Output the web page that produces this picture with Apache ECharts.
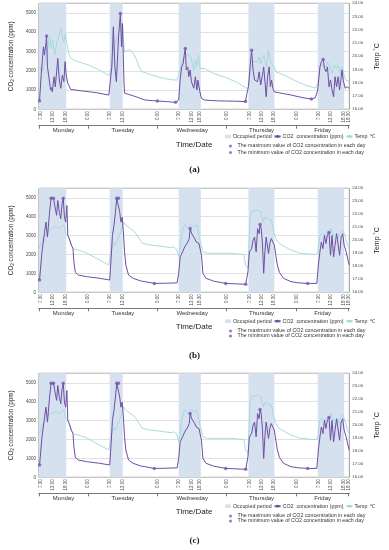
<!DOCTYPE html>
<html><head><meta charset="utf-8">
<script src="https://cdn.jsdelivr.net/npm/echarts@6/dist/echarts.min.js"></script>
<style>html,body{margin:0;padding:0;background:#fff}#c{width:389px;height:550px}</style>
</head><body><div id="c"></div>
<script>
// x = sample position along the (irregularly sampled) time axis, 0..340.7
const xTickPos = [0, 2, 15.7, 30, 54, 77.7, 92, 130.4, 153.4, 168, 177, 206, 231, 245, 257.4, 282.7, 306.7, 320.7, 334.4, 340];
const xTickLab = ['7:00','7:30','12:00','18:30','0:00','7:30','12:00','0:00','7:30','12:00','18:30','0:00','7:30','12:00','18:30','0:00','7:30','12:00','18:30','18:30'];
const dayBound = [0, 54, 130.4, 206, 282.7, 340];
const dayMid = [27, 92.2, 168.2, 244.4, 311.4];
const dayNames = ['Monday','Tuesday','Wednesday','Thursday','Friday'];
const occStart = [0, 77.7, 153.4, 230, 306];
const occEnd = [30, 92, 177.7, 258.4, 335];
const co2Ticks = [0, 1000, 2000, 3000, 4000, 5000];
const tempTicks = [16, 17, 18, 19, 20, 21, 22, 23, 24];

const co2A = [[0.7,450],[2.5,1800],[5,3240],[6,2810],[7.7,3420],[8.4,3800],[9.4,2200],[11.4,1520],[12.7,1000],[14,1130],[14.6,900],[16.7,1690],[18,1170],[20.7,2640],[22.4,1520],[24,1090],[25.7,1760],[27.4,1440],[28.7,2470],[30,1760],[31.7,1350],[33.4,1300],[35,1030],[46.7,960],[63.4,860],[76.7,740],[78.3,840],[80,2200],[81.7,4280],[83.4,2200],[85,1430],[87.4,3760],[89.4,4970],[90.7,3240],[91.7,4450],[93.4,1350],[94,840],[100,750],[106.7,650],[111.7,560],[116.7,480],[125,450],[130,430],[140,400],[150,360],[153.4,480],[155,1520],[156.7,2200],[158.4,2400],[159.4,2800],[160.7,3160],[161.7,2040],[163.4,2200],[164.4,1690],[166,2040],[167.4,1430],[168.4,1520],[170,1090],[171.7,1690],[173.4,1000],[174.4,1520],[175.7,1600],[176.7,900],[178.4,570],[181.7,480],[195,440],[205,430],[215,420],[226.7,400],[228.4,840],[230,1170],[231.7,2200],[233.4,3070],[235,2040],[236.7,1520],[238.4,1600],[240,1430],[241.7,1950],[243.4,1260],[245,1690],[246.7,2200],[248.4,1260],[249.4,650],[251,1690],[252.7,2200],[254,1170],[255.4,1520],[256.7,1090],[258.4,900],[263.4,860],[276.7,740],[290,600],[299,530],[303.4,600],[306,1000],[308.4,2200],[310,2470],[312,2590],[313.4,2120],[315,1950],[316.7,2200],[318.4,1170],[320,1520],[321.7,1000],[323.4,650],[325,1690],[326.7,1170],[328.4,1690],[330,1000],[332.7,2040],[334,1520],[336,1090],[338.4,1170],[340.5,1090]];
const tempA = [[0.7,19.2],[3.4,18.8],[6,19.45],[7.7,19.95],[9.4,20.45],[11.7,21.47],[13.4,20.6],[15,21.2],[17.4,20.1],[19.4,20.97],[21.7,21.47],[24,22.1],[25,22.2],[26,21.35],[27.4,21.1],[29,21.73],[30,21.2],[32.7,20.2],[35,19.83],[43.4,19.58],[55,19.33],[66.7,18.95],[76.7,18.57],[78.4,18.82],[80,19.2],[81.7,20.45],[85,21.2],[88.4,21.9],[91.7,22.5],[92.5,21.5],[94,20.3],[96.7,20.45],[100,20.5],[103,20.3],[106.7,19.8],[110,19.2],[113,18.85],[123,18.6],[133,18.4],[143,18.25],[151.7,18.2],[153.4,18.3],[156.7,19.45],[158.4,19.83],[160,19.95],[163.4,20.1],[165,20.2],[166.7,19.95],[168.4,20.1],[170,18.95],[171.7,19.7],[173.4,19.2],[175,20.1],[176,19.95],[177,19.08],[178.4,19.2],[181.7,19.08],[191.7,18.7],[205,18.4],[218.4,18.0],[228.4,17.56],[230,17.8],[232.7,19.2],[235,19.6],[236.7,19.45],[240,19.6],[241.7,19.95],[243.4,19.45],[245,19.83],[246.7,20.1],[248.4,19.58],[250,19.2],[251.7,20.45],[253.4,20.6],[255,19.45],[258.4,19.2],[260,18.82],[270,18.57],[280,18.2],[293.4,17.8],[303.4,17.6],[306,17.95],[308.4,19.1],[310.7,19.33],[312.7,19.45],[315,19.2],[316.7,19.58],[319.4,19.2],[321.7,18.7],[324,19.33],[326.7,19.08],[328.4,19.33],[330.7,18.7],[332.7,19.2],[334,18.82],[336.7,18.2],[340.5,18.1]];
const maxA = [[8.4,3800],[89.4,4970],[160.7,3160],[233.4,3070],[312,2590]];
const minA = [[0.7,450],[130,430],[150,360],[226.7,400],[299,530]];

const co2B = [[0.7,650],[3.4,2140],[6,3100],[7.7,3710],[9.4,2920],[11.7,4240],[13.4,4980],[16,4980],[17.4,4590],[19.4,4070],[20.7,4850],[22.4,4240],[24,3890],[25.4,4680],[26.7,4980],[28,3980],[29.4,3710],[30.7,4590],[31.7,3010],[33.4,2840],[35.7,2490],[37.4,2310],[38.4,1610],[40,1050],[43.4,910],[53.4,820],[66.7,740],[77.7,650],[79,1610],[80.7,3010],[82.4,3540],[84,4240],[85.4,4980],[87.4,4980],[88.7,4240],[90,3710],[91.4,3980],[92.7,3190],[94,2140],[95.4,1440],[98.4,910],[103.4,740],[111.7,600],[116.7,560],[126.7,470],[140,480],[151.7,500],[153.4,1000],[155,1870],[157.7,2140],[160,2400],[161.7,2490],[163.4,2660],[165,2840],[166,3370],[167.7,3100],[169,3190],[171,2840],[172.7,2660],[174.4,2580],[175.7,2580],[177,2580],[178.4,1960],[180,1000],[183.4,740],[191.7,590],[205,470],[215,450],[227,420],[229.4,1080],[231,2140],[233.4,2310],[235,2750],[236.7,2920],[238.4,2140],[240,3370],[241.7,3100],[242.7,3580],[244,3370],[245.4,2490],[246.7,1000],[248,2140],[249.4,2920],[250.7,2840],[252,2050],[253.4,2580],[255,2840],[256.7,2750],[258.4,2490],[260,1960],[261.7,1440],[264,1050],[268.4,740],[276.7,560],[285,500],[295,470],[305,470],[306.7,1440],[308.4,2140],[310,2660],[311.7,2310],[313.4,3010],[315,2580],[316.7,3050],[318.4,3160],[320,1960],[321.7,3010],[323.4,1870],[325,2490],[326.7,3100],[328.4,3010],[330,1960],[331.7,2920],[333.4,3100],[335,2490],[336.7,2230],[338.4,1870],[340.5,1440]];
const tempB = [[0.3,19.38],[3.4,19.9],[5,20.15],[6.7,20.28],[9.4,20.66],[11.7,20.8],[15,20.92],[18.4,21.05],[21.7,20.92],[25,21.05],[27.4,21.18],[29.4,20.54],[31.7,20.4],[33.4,20.02],[36,19.5],[38.4,19.33],[43.4,19.25],[53.4,19.0],[63.4,18.6],[76.7,18.1],[79,19.12],[81.7,19.77],[84,19.64],[86.7,20.15],[90,20.66],[92.7,21.43],[95,21.18],[100,20.92],[105,20.66],[110,20.15],[113.4,19.77],[121.7,19.64],[131.7,19.56],[145,19.43],[148.4,19.5],[151.7,19.25],[153.4,18.74],[155,19.38],[156.7,20.4],[158.4,20.92],[160,21.23],[161.7,21.3],[163.4,20.92],[165,21.05],[166.7,21.23],[168.4,21.3],[170,21.05],[171.7,20.92],[173.4,21.18],[175,21.05],[176.7,20.02],[180,19.12],[185,19.0],[198.4,19.0],[211.7,19.0],[225,18.9],[226.7,18.1],[229.4,17.85],[231.7,21.69],[233.4,22.2],[236.7,22.25],[240,22.33],[243.4,22.2],[246,21.43],[248.4,21.8],[250,21.69],[252.7,21.56],[255,21.56],[256.7,21.43],[257.7,20.66],[260,20.15],[263.4,19.77],[270,19.5],[276.7,19.25],[286.7,19.0],[303.4,18.9],[306,19.0],[308.4,20.4],[310,20.28],[311.7,20.54],[313.4,20.28],[315,20.4],[316.7,20.66],[318.4,20.4],[320,20.92],[321.7,20.8],[323.4,20.4],[325,20.54],[326.7,20.4],[328.4,20.15],[330,20.54],[331.7,20.66],[333.4,20.8],[335,20.54],[336.7,20.15],[338.4,19.64],[340.5,19.38]];
const maxB = [[13.4,4980],[16,4980],[26.7,4980],[85.4,4980],[87.4,4980],[166,3370],[242.7,3580],[318.4,3160]];
const minB = [[0.7,650],[126.7,470],[205,470],[227,420],[295,470]];

const panelLabels = ['(a)','(b)','(c)'];

const FONT = 'Liberation Sans, Arial, sans-serif';
const C_OCC = '#d6e1f0', C_CO2 = '#6e4fa3', C_TEMP = '#9ed8da', C_MARK = '#7a56b2';
const N_OCC = 'Occupied period', N_CO2 = 'CO2  concentration (ppm)', N_TEMP = 'Temp  \u2103';
const N_MAX = 'The maximum value of CO2 concentration in each day';
const N_MIN = 'The minimum value of CO2 concentration in each day';

const layout = [
  {top: 3.3, h: 106, brk: 16.4, tdGap: 15, lab: 165, lg1: 134, lg2: 143.5, lgGap: 1.6},
  {top: 188.3, h: 104, brk: 16, tdGap: 14.4, lab: 351.5, lg1: 318.7, lg2: 328.5, lgGap: 0},
  {top: 373.3, h: 104, brk: 16, tdGap: 14.4, lab: 536.5, lg1: 503.7, lg2: 513.5, lgGap: 0}
];
const panelData = [
  {co2: co2A, temp: tempA, max: maxA, min: minA},
  {co2: co2B, temp: tempB, max: maxB, min: minB},
  {co2: co2B, temp: tempB, max: maxB, min: minB}
];

const grid = [], xAxis = [], yAxis = [], series = [], legend = [], title = [];
layout.forEach((L, p) => {
  grid.push({left: 23.3, right: 25, top: L.top, height: L.h, show: true, borderColor: '#7f7f7f', borderWidth: 0.8, backgroundColor: 'transparent'});
  xAxis.push({
    gridIndex: p, type: 'value', min: 0, max: 340.7,
    axisLine: {show: false}, axisTick: {show: false}, splitLine: {show: false},
    axisLabel: {customValues: xTickPos, rotate: 90, fontSize: 4.5, margin: 2, color: '#444', fontFamily: FONT,
      formatter: v => xTickLab[xTickPos.indexOf(v)]}
  });
  xAxis.push({
    gridIndex: p, type: 'value', min: 0, max: 340.7, position: 'bottom', offset: L.brk,
    axisLine: {show: true, lineStyle: {color: '#555', width: 0.8}},
    axisTick: {show: true, customValues: dayBound, length: 3, lineStyle: {color: '#555', width: 0.8}},
    splitLine: {show: false},
    axisLabel: {customValues: dayMid, fontSize: 6, margin: 2, color: '#333', fontFamily: FONT,
      formatter: v => dayNames[dayMid.indexOf(v)]},
    name: 'Time/Date', nameLocation: 'middle', nameGap: L.tdGap,
    nameTextStyle: {fontSize: 8, color: '#222', fontFamily: FONT}
  });
  yAxis.push({
    gridIndex: p, type: 'value', min: 0, max: 5500, interval: 1000, position: 'left',
    axisLine: {show: false}, axisTick: {show: false},
    splitLine: {show: true, lineStyle: {color: '#d4d4d4', width: 0.7}},
    axisLabel: {customValues: co2Ticks, fontSize: 4.5, margin: 3, color: '#444', fontFamily: FONT,
      formatter: v => String(v)},
    name: 'CO{s|2} concentration (ppm)', nameLocation: 'middle', nameGap: 12, nameRotate: 90,
    nameTextStyle: {fontSize: 6.3, color: '#222', fontFamily: FONT,
      rich: {s: {fontSize: 4.5, verticalAlign: 'bottom', color: '#222', fontFamily: FONT, padding: [3,0,0,0]}}}
  });
  yAxis.push({
    gridIndex: p, type: 'value', min: 16, max: 24, interval: 1, position: 'right',
    axisLine: {show: false}, axisTick: {show: false}, splitLine: {show: false},
    axisLabel: {customValues: tempTicks, fontSize: 4.3, margin: 3, color: '#444', fontFamily: FONT,
      formatter: v => v.toFixed(2)},
    name: 'Temp \u02DAC', nameLocation: 'middle', nameGap: 15.5, nameRotate: 90,
    nameTextStyle: {fontSize: 7, color: '#222', fontFamily: FONT}
  });
  const D = panelData[p];
  series.push({
    name: N_OCC, type: 'line', xAxisIndex: 2*p, yAxisIndex: 2*p, data: [], symbol: 'none',
    color: C_OCC, silent: true,
    markArea: {silent: true, itemStyle: {color: C_OCC, opacity: 1},
      data: occStart.map((s, i) => [{xAxis: s}, {xAxis: occEnd[i]}])}
  });
  series.push({
    name: N_TEMP, type: 'line', xAxisIndex: 2*p, yAxisIndex: 2*p+1, data: D.temp, symbol: 'none',
    color: C_TEMP, lineStyle: {width: 0.9, color: C_TEMP}, silent: true, z: 3
  });
  series.push({
    name: N_CO2, type: 'line', xAxisIndex: 2*p, yAxisIndex: 2*p, data: D.co2, symbol: 'none',
    color: C_CO2, lineStyle: {width: 1, color: C_CO2}, silent: true, z: 4
  });
  series.push({
    name: N_MAX, type: 'scatter', xAxisIndex: 2*p, yAxisIndex: 2*p, data: D.max, symbol: 'circle',
    symbolSize: 3.5, color: C_MARK, silent: true, z: 5
  });
  series.push({
    name: N_MIN, type: 'scatter', xAxisIndex: 2*p, yAxisIndex: 2*p, data: D.min, symbol: 'circle',
    symbolSize: 3.5, color: C_MARK, silent: true, z: 5
  });
  legend.push({
    left: 225, top: L.lg1, orient: 'horizontal', padding: 0, itemGap: 2, itemWidth: 6, itemHeight: 3.5,
    selectedMode: false, textStyle: {fontSize: 5.3, color: '#333', fontFamily: FONT, padding: [0,0,0,-3]},
    data: [{name: N_OCC, icon: 'rect'}, {name: N_CO2}, {name: N_TEMP}]
  });
  legend.push({
    left: 229, top: L.lg2, orient: 'vertical', padding: 0, itemGap: L.lgGap, itemWidth: 4, itemHeight: 3,
    selectedMode: false, textStyle: {fontSize: 5.3, color: '#333', fontFamily: FONT},
    data: [{name: N_MAX, icon: 'circle'}, {name: N_MIN, icon: 'circle'}]
  });
  title.push({text: panelLabels[p], left: 'center', top: L.lab, padding: 0,
    textStyle: {fontSize: 9, fontWeight: 'bold', color: '#222', fontFamily: 'Liberation Serif, serif'}});
});

const chart = echarts.init(document.getElementById('c'), null, {renderer: 'canvas'});
chart.setOption({animation: false, backgroundColor: '#fff', grid, xAxis, yAxis, series, legend, title});
</script></body></html>
